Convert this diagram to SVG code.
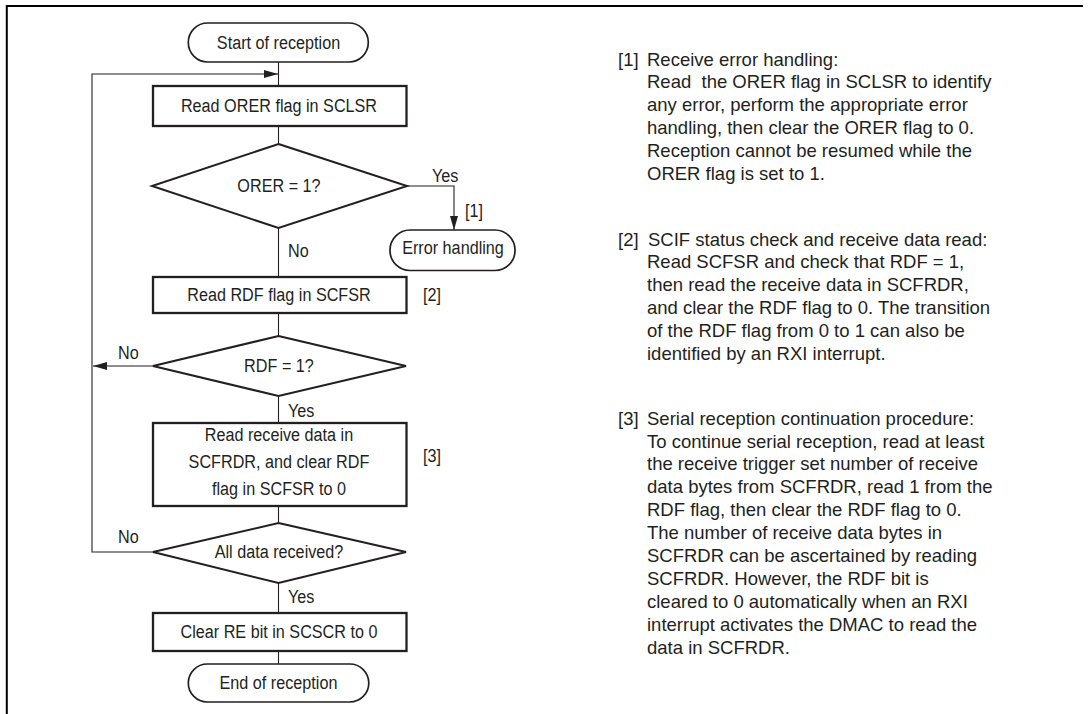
<svg xmlns="http://www.w3.org/2000/svg" width="1092" height="714" viewBox="0 0 1092 714">
<style>
  .t { font-family: "Liberation Sans", Arial, sans-serif; font-size: 17.6px; fill: #231f20; }
  .tc { text-anchor: middle; }
  .n { font-family: "Liberation Sans", Arial, sans-serif; font-size: 18.5px; fill: #231f20; }
  .box { fill: #fff; stroke: #231f20; stroke-width: 2.3; }
  .dia { fill: #fff; stroke: #231f20; stroke-width: 2; }
  .term { fill: #fff; stroke: #231f20; stroke-width: 1.7; }
  .ln { fill: none; stroke: #231f20; stroke-width: 1.1; }
  .frame { fill: none; stroke: #000; stroke-width: 2; }
</style>
<defs>
  <marker id="arr" markerUnits="userSpaceOnUse" markerWidth="15" markerHeight="8" refX="14" refY="4" orient="auto">
    <path d="M0,0 L14,4 L0,8 Z" fill="#231f20"/>
  </marker>
</defs>
<rect x="0" y="0" width="1092" height="714" fill="#fff"/>
<path class="frame" d="M6.8,714 V6 H1083"/>

<g id="connectors">
  <line class="ln" x1="278.5" y1="62" x2="278.5" y2="86"/>
  <line class="ln" x1="278.5" y1="126" x2="278.5" y2="144"/>
  <polyline class="ln" points="407,186 454,186 454,230" marker-end="url(#arr)"/>
  <line class="ln" x1="278.5" y1="228" x2="278.5" y2="277"/>
  <line class="ln" x1="278.5" y1="313" x2="278.5" y2="336"/>
  <line class="ln" x1="153" y1="366" x2="93" y2="366" marker-end="url(#arr)"/>
  <line class="ln" x1="278.5" y1="396" x2="278.5" y2="423"/>
  <line class="ln" x1="278.5" y1="506" x2="278.5" y2="523"/>
  <polyline class="ln" points="153,552 92,552 92,74 278,74" marker-end="url(#arr)"/>
  <line class="ln" x1="278.5" y1="583" x2="278.5" y2="613"/>
  <line class="ln" x1="278.5" y1="651" x2="278.5" y2="664"/>
  <text class="t" transform="scale(0.92,1)" x="469.57" y="182">Yes</text>
  <text class="t" transform="scale(0.92,1)" x="505.43" y="217">[1]</text>
  <text class="t" transform="scale(0.92,1)" x="313.04" y="257">No</text>
  <text class="t" transform="scale(0.92,1)" x="128.26" y="359">No</text>
  <text class="t" transform="scale(0.92,1)" x="313.04" y="417">Yes</text>
  <text class="t" transform="scale(0.92,1)" x="128.26" y="543">No</text>
  <text class="t" transform="scale(0.92,1)" x="313.04" y="603">Yes</text>
</g>

<g id="start">
  <rect class="term" x="188.3" y="23" width="180" height="39" rx="19.5" ry="19.5"/>
  <text class="t tc" transform="scale(0.92,1)" x="302.72" y="49">Start of reception</text>
</g>
<g id="read-orer">
  <rect class="box" x="153" y="86" width="253.5" height="40"/>
  <text class="t tc" transform="scale(0.92,1)" x="303.26" y="112.5">Read ORER flag in SCLSR</text>
</g>
<g id="orer-decision">
  <polygon class="dia" points="278.5,144 407,186 278.5,228 152,186"/>
  <text class="t tc" transform="scale(0.92,1)" x="303.26" y="192.5">ORER = 1?</text>
</g>
<g id="error-handling">
  <rect class="term" x="390" y="230" width="125" height="40.5" rx="20" ry="20"/>
  <text class="t tc" transform="scale(0.92,1)" x="492.39" y="254.5">Error handling</text>
</g>
<g id="read-rdf">
  <rect class="box" x="153" y="277" width="253.5" height="36"/>
  <text class="t tc" transform="scale(0.92,1)" x="303.26" y="301.5">Read RDF flag in SCFSR</text>
  <text class="t" transform="scale(0.92,1)" x="459.78" y="301.5">[2]</text>
</g>
<g id="rdf-decision">
  <polygon class="dia" points="278.5,336 406,366 278.5,396 153,366"/>
  <text class="t tc" transform="scale(0.92,1)" x="303.26" y="372">RDF = 1?</text>
</g>
<g id="read-data">
  <rect class="box" x="153" y="423" width="253.5" height="83"/>
  <text class="t tc" transform="scale(0.92,1)" x="303.26" y="441.5">Read receive data in</text>
  <text class="t tc" transform="scale(0.92,1)" x="303.26" y="468.5">SCFRDR, and clear RDF</text>
  <text class="t tc" transform="scale(0.92,1)" x="303.26" y="495.5">flag in SCFSR to 0</text>
  <text class="t" transform="scale(0.92,1)" x="459.78" y="462.5">[3]</text>
</g>
<g id="all-decision">
  <polygon class="dia" points="278.5,523 406,552 278.5,583 153,552"/>
  <text class="t tc" transform="scale(0.92,1)" x="303.26" y="558">All data received?</text>
</g>
<g id="clear-re">
  <rect class="box" x="153" y="613" width="253.5" height="38"/>
  <text class="t tc" transform="scale(0.92,1)" x="303.26" y="638">Clear RE bit in SCSCR to 0</text>
</g>
<g id="end">
  <rect class="term" x="188.3" y="664" width="180.5" height="38" rx="19" ry="19"/>
  <text class="t tc" transform="scale(0.92,1)" x="302.72" y="689">End of reception</text>
</g>

<g id="notes">
  <text class="n" x="618" y="65.5">[1]</text>
  <text class="n" x="647" y="65.5">Receive error handling:</text>
  <text class="n" x="647" y="88.3">Read&#160; the ORER flag in SCLSR to identify</text>
  <text class="n" x="647" y="111.1">any error, perform the appropriate error</text>
  <text class="n" x="647" y="133.9">handling, then clear the ORER flag to 0.</text>
  <text class="n" x="647" y="156.7">Reception cannot be resumed while the</text>
  <text class="n" x="647" y="179.5">ORER flag is set to 1.</text>

  <text class="n" x="618" y="245.5">[2]</text>
  <text class="n" x="648" y="245.5">SCIF status check and receive data read:</text>
  <text class="n" x="647" y="268.3">Read SCFSR and check that RDF = 1,</text>
  <text class="n" x="647" y="291.1">then read the receive data in SCFRDR,</text>
  <text class="n" x="647" y="313.9">and clear the RDF flag to 0. The transition</text>
  <text class="n" x="647" y="336.7">of the RDF flag from 0 to 1 can also be</text>
  <text class="n" x="647" y="359.5">identified by an RXI interrupt.</text>

  <text class="n" x="618" y="424.6">[3]</text>
  <text class="n" x="647" y="424.6">Serial reception continuation procedure:</text>
  <text class="n" x="647" y="447.5">To continue serial reception, read at least</text>
  <text class="n" x="647" y="470.4">the receive trigger set number of receive</text>
  <text class="n" x="647" y="493.3">data bytes from SCFRDR, read 1 from the</text>
  <text class="n" x="647" y="516.2">RDF flag, then clear the RDF flag to 0.</text>
  <text class="n" x="647" y="539.1">The number of receive data bytes in</text>
  <text class="n" x="647" y="562">SCFRDR can be ascertained by reading</text>
  <text class="n" x="647" y="584.9">SCFRDR. However, the RDF bit is</text>
  <text class="n" x="647" y="607.8">cleared to 0 automatically when an RXI</text>
  <text class="n" x="647" y="630.7">interrupt activates the DMAC to read the</text>
  <text class="n" x="647" y="653.6">data in SCFRDR.</text>
</g>
</svg>
